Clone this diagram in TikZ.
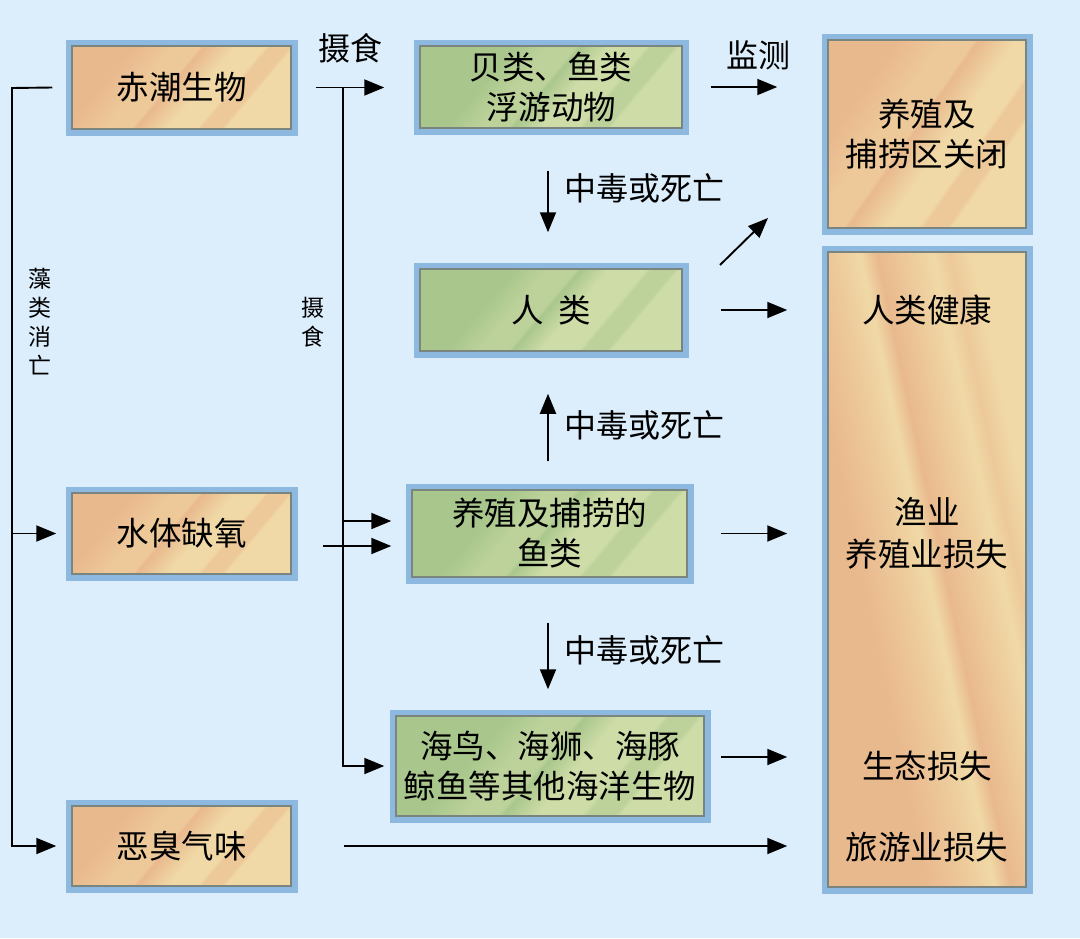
\documentclass[tikz,border=0pt]{standalone}
\usepackage{fontspec}
\setmainfont{Noto Sans CJK SC}
\usetikzlibrary{arrows.meta,calc}
\definecolor{bg}{HTML}{DCEDFB}
\definecolor{frame}{HTML}{8DB8E0}
\definecolor{edge}{HTML}{7A8580}
\definecolor{orA}{HTML}{E9B98E}
\definecolor{orB}{HTML}{F0D9A6}
\definecolor{orC}{HTML}{EDC99A}
\definecolor{grA}{HTML}{A9C78C}
\definecolor{grB}{HTML}{CEDCA8}
\definecolor{grC}{HTML}{BCD29A}
\pgfdeclarehorizontalshading{orstripe}{100bp}{color(0bp)=(orA); color(30bp)=(orA); color(40bp)=(orC); color(46bp)=(orC); color(47bp)=(orA); color(55bp)=(orB); color(62bp)=(orB); color(63bp)=(orC); color(68bp)=(orC); color(69bp)=(orB); color(100bp)=(orB)}
\pgfdeclarehorizontalshading{bigstripe}{100bp}{color(0bp)=(orA); color(38bp)=(orA); color(45bp)=(orC); color(50bp)=(orB); color(53bp)=(orA); color(58bp)=(orC); color(63bp)=(orB); color(66bp)=(orC); color(70bp)=(orB); color(100bp)=(orB)}
\pgfdeclarehorizontalshading{grstripe}{100bp}{color(0bp)=(grA); color(35bp)=(grA); color(42bp)=(grC); color(48bp)=(grC); color(49bp)=(grA); color(55bp)=(grB); color(63bp)=(grB); color(64bp)=(grC); color(69bp)=(grC); color(70bp)=(grB); color(100bp)=(grB)}
\tikzset{
  box/.style={draw=edge, line width=1.5pt, preaction={draw=frame, line width=13pt},
    inner sep=0pt, align=center, font=\fontsize{32.5}{40}\selectfont},
  obox/.style={box, shading=orstripe, shading angle=-40},
  gbox/.style={box, shading=grstripe, shading angle=-40},
  arr/.style={line width=1.9pt, -{Triangle[length=20pt,width=16pt]}},
  lab/.style={font=\fontsize{32}{36}\selectfont, inner sep=0pt},
  vlab/.style={font=\fontsize{23}{29}\selectfont, inner sep=0pt, align=center},
  btxt/.style={font=\fontsize{32.5}{42}\selectfont, inner sep=0pt, align=center},
}
\begin{document}
\begin{tikzpicture}[x=1pt,y=-1pt]
\path[fill=bg] (0,0) rectangle (1080,938);

% left column
\node[obox, minimum width=219pt, minimum height=83pt] (red) at (181.5,87.5) {赤潮生物};
\node[obox, minimum width=219pt, minimum height=81pt] (water) at (181.5,533.5) {水体缺氧};
\node[obox, minimum width=219pt, minimum height=80pt] (smell) at (181.5,846) {恶臭气味};

% middle column
\node[gbox, minimum width=262pt, minimum height=82pt] (shell) at (551,87) {贝类、鱼类\\浮游动物};
\node[gbox, minimum width=262pt, minimum height=82pt] (human) at (551,310) {人\ \ 类};
\node[gbox, minimum width=275pt, minimum height=87pt] (fish) at (549.5,533.5) {养殖及捕捞的\\鱼类};
\node[gbox, minimum width=308pt, minimum height=100pt] (bird) at (550,766) {海鸟、海狮、海豚\\鲸鱼等其他海洋生物};

% right column
\node[box, shading=orstripe, shading angle=-35, minimum width=198pt, minimum height=188pt] (close) at (927,134) {养殖及\\捕捞区关闭};
\node[box, shading=bigstripe, shading angle=12, minimum width=198pt, minimum height=635pt] (big) at (927,569.5) {};
\node[btxt] (t1) at (927,310) {人类健康};
\node[btxt] (t2) at (927,533) {渔业\\养殖业损失};
\node[btxt] (t3) at (927,766) {生态损失};
\node[btxt] (t4) at (927,847) {旅游业损失};

% left bracket (algae decay)
\coordinate (lt) at (12,88);
\coordinate (ls) at ([xshift=-19pt]red.west);
\draw[arr] (ls) -- (lt) |- ([xshift=-15pt]smell.west);
\draw[arr] (lt |- water.west) -- ([xshift=-15pt]water.west);
\node[vlab] (algae) at (40,322) {藻\\类\\消\\亡};

% feeding
\coordinate (fs) at ([xshift=24pt]red.east);
\coordinate (ft) at (343,87.5);
\draw[arr] (fs) -- ([xshift=-35pt]shell.west |- fs);
\draw[arr] (ft) |- ([xshift=-11pt]bird.west);
\coordinate (fu) at ([xshift=-20pt,yshift=12.5pt]fish.west);
\coordinate (fd) at ([xshift=-20pt,yshift=-12.5pt]fish.west);
\coordinate (wo) at ([xshift=31pt]water.east);
\draw[arr] (ft |- fu) -- (fu);
\draw[arr] (wo |- fd) -- (fd);
\node[lab] (feed1) at (350,48) {摄食};
\node[vlab] (feed2) at (313,322) {摄\\食};

% monitoring
\coordinate (m1) at ([xshift=28pt]shell.east);
\draw[arr] (m1) -- ([xshift=-50pt]close.west |- m1);
\node[lab] (mon) at (758,55) {监测};

% poisoning arrows
\draw[arr] ([xshift=-3pt,yshift=-42pt]shell.south) -- ([xshift=-3pt,yshift=36pt]human.north);
\node[lab, anchor=west] (p1) at (564,188) {中毒或死亡};
\draw[arr] ([xshift=-1.5pt,yshift=28pt]fish.north) -- ([xshift=-3pt,yshift=-42pt]human.south);
\node[lab, anchor=west] (p2) at (564,425) {中毒或死亡};
\draw[arr] ([xshift=-1.5pt,yshift=-45pt]fish.south) -- ([xshift=-2pt,yshift=26pt]bird.north);
\node[lab, anchor=west] (p3) at (564,650) {中毒或死亡};

% arrows to the right
\coordinate (d1) at (720,265);
\coordinate (d2) at (768,218);
\draw[arr] (d1) -- (d2);
\coordinate (h1) at ([xshift=38pt]human.east);
\draw[arr] (h1) -- ([xshift=-40pt]big.west |- h1);
\coordinate (f1) at ([xshift=33pt]fish.east);
\draw[arr] (f1) -- ([xshift=-40pt]big.west |- f1);
\coordinate (b1) at ([xshift=16pt,yshift=9pt]bird.east);
\draw[arr] (b1) -- ([xshift=-40pt]big.west |- b1);
\coordinate (s1) at ([xshift=52pt]smell.east);
\draw[arr] (s1) -- ([xshift=-40pt]big.west |- s1);
\end{tikzpicture}
\end{document}
